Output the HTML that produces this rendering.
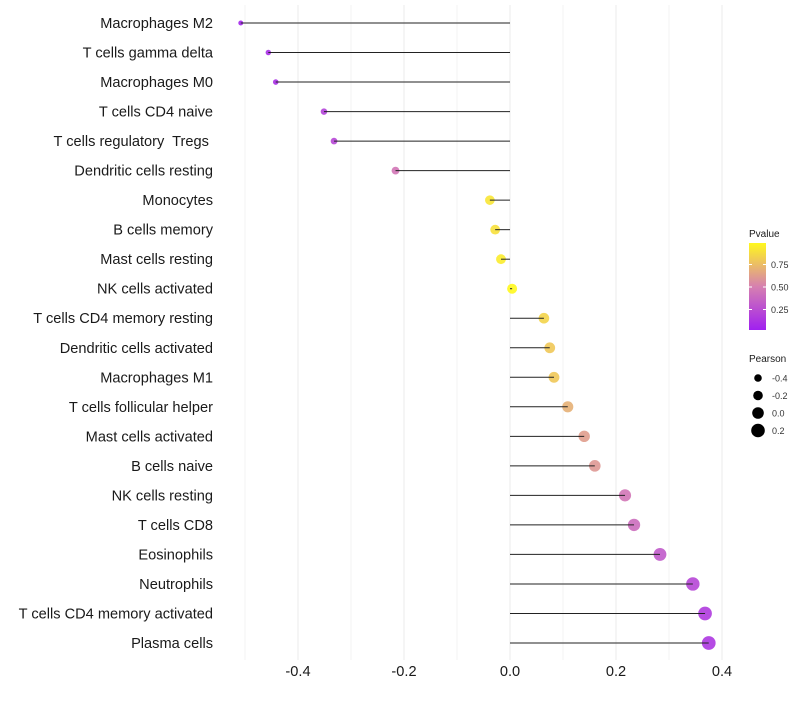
<!DOCTYPE html>
<html><head><meta charset="utf-8"><style>
body{margin:0;background:#fff;font-family:"Liberation Sans",sans-serif}
text{white-space:pre}
</style></head><body>
<svg id="chart" width="800" height="700" xmlns="http://www.w3.org/2000/svg" font-family="Liberation Sans, sans-serif"></svg>
<script>
const categories=["Macrophages M2","T cells gamma delta","Macrophages M0","T cells CD4 naive","T cells regulatory  Tregs ","Dendritic cells resting","Monocytes","B cells memory","Mast cells resting","NK cells activated","T cells CD4 memory resting","Dendritic cells activated","Macrophages M1","T cells follicular helper","Mast cells activated","B cells naive","NK cells resting","T cells CD8","Eosinophils","Neutrophils","T cells CD4 memory activated","Plasma cells"];
const pearson=[-0.508,-0.456,-0.442,-0.351,-0.332,-0.216,-0.038,-0.028,-0.017,0.004,0.064,0.075,0.083,0.109,0.140,0.160,0.217,0.234,0.283,0.345,0.368,0.375];
const pvalue=[0.03,0.08,0.08,0.18,0.2,0.45,0.92,0.9,0.95,1.0,0.85,0.8,0.8,0.7,0.62,0.6,0.45,0.4,0.3,0.2,0.14,0.12];
const xTicks=[-0.4,-0.2,0.0,0.2,0.4];
const xTickLabels=["-0.4","-0.2","0.0","0.2","0.4"];
const pLegendTicks=[0.25,0.5,0.75];
const sizeLegend=[-0.4,-0.2,0.0,0.2];
const NS="http://www.w3.org/2000/svg";
const svg=document.getElementById('chart');
function x(v){return 510+530*v;}
function y(i){return 23+i*(620/21);}
function r(v){return 5+5*v;}
function lerp(a,b,t){return a.map((c,k)=>Math.round(c+(b[k]-c)*t));}
function col(p){const c0=[160,32,240],c1=[214,128,176],c2=[255,248,30];
 const c=p<0.5?lerp(c0,c1,p/0.5):lerp(c1,c2,(p-0.5)/0.5);return `rgb(${c[0]},${c[1]},${c[2]})`;}
function el(t,a,txt){const e=document.createElementNS(NS,t);for(const k in a)e.setAttribute(k,a[k]);if(txt!==undefined)e.textContent=txt;svg.appendChild(e);return e;}
for(let k=-5;k<=4;k++){const v=k/10;const g=el('line',{x1:x(v),x2:x(v),y1:5,y2:660,stroke:k%2===0?'#ebebeb':'#f3f3f3','stroke-width':1});
}
categories.forEach((c,i)=>{
 const t=el('text',{x:213,y:y(i)+5,'text-anchor':'end','font-size':14.6,fill:'#1a1a1a'},c);
 
 const p=el('circle',{cx:x(pearson[i]),cy:y(i),r:r(pearson[i]),fill:col(pvalue[i]),'fill-opacity':0.9});
 
 const l=el('line',{x1:x(0),x2:x(pearson[i]),y1:y(i),y2:y(i),stroke:'#222','stroke-width':1});
 
});
xTicks.forEach((v,i)=>{const t=el('text',{x:x(v),y:676,'text-anchor':'middle','font-size':14.6,fill:'#1a1a1a'},xTickLabels[i]);
 });
let t=el('text',{x:749,y:237,'font-size':10,fill:'#1a1a1a'},'Pvalue');

const defs=el('defs',{});const lg=document.createElementNS(NS,'linearGradient');lg.setAttribute('id','pg');lg.setAttribute('x1','0');lg.setAttribute('y1','1');lg.setAttribute('x2','0');lg.setAttribute('y2','0');
for(let k=0;k<=10;k++){const s=document.createElementNS(NS,'stop');s.setAttribute('offset',k/10);s.setAttribute('stop-color',col(k/10));lg.appendChild(s);}defs.appendChild(lg);
const bar=el('rect',{x:749,y:243,width:17,height:87,fill:'url(#pg)'});

function py(p){return 332-90*p;}
pLegendTicks.forEach(p=>{el('line',{x1:749,x2:752,y1:py(p),y2:py(p),stroke:'#fff'});el('line',{x1:763,x2:766,y1:py(p),y2:py(p),stroke:'#fff'});
 const tt=el('text',{x:771,y:py(p)+3.5,'font-size':9,fill:'#333'},p.toFixed(2));
 });
t=el('text',{x:749,y:362,'font-size':10,fill:'#1a1a1a'},'Pearson');

sizeLegend.forEach((v,i)=>{const cy=378+i*17.5;
 const c=el('circle',{cx:758,cy:cy,r:r(v)+0.8,fill:'#000'});
 
 const tt=el('text',{x:772,y:cy+3.5,'font-size':9,fill:'#333'},v.toFixed(1));
 });
</script>
</body></html>
